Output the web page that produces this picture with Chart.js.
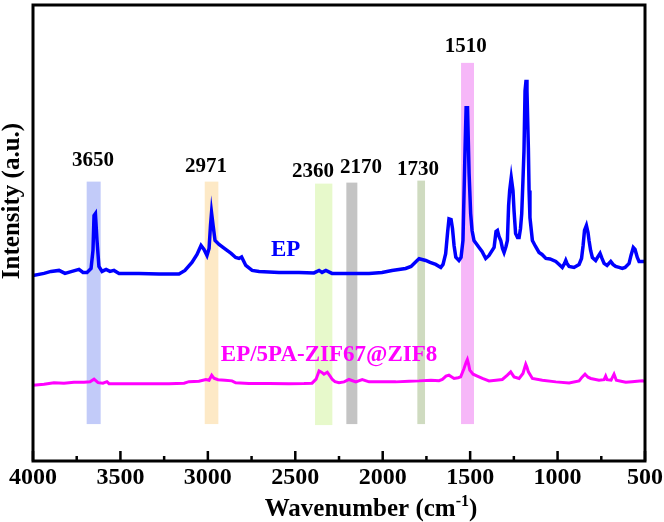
<!DOCTYPE html>
<html>
<head>
<meta charset="utf-8">
<script src="https://cdn.jsdelivr.net/npm/chart.js@4/dist/chart.umd.min.js"></script>
<style>
  html, body { margin: 0; padding: 0; background: #ffffff; }
  #wrap { width: 664px; height: 522px; position: relative; }
</style>
</head>
<body>
<div id="wrap"><canvas id="c" width="664" height="522"></canvas></div>
<script>
// ---------- DATA ----------
const wavenumberEP = [4000,3937,3897,3851,3817,3777,3737,3714,3691,3668,3657,3651,3643,3634,3623,3605,3582,3560,3537,3508,3394,3279,3165,3131,3091,3062,3039,3022,3005,2993,2985,2979,2970,2959,2936,2898,2867,2841,2822,2807,2783,2747,2707,2593,2479,2393,2364,2347,2325,2290,2193,2078,2004,1947,1869,1838,1809,1792,1775,1754,1729,1697,1668,1655,1640,1629,1621,1609,1601,1592,1582,1564,1552,1541,1529,1523,1515,1506,1497,1489,1478,1449,1432,1411,1392,1363,1352,1344,1335,1325,1315,1306,1295,1287,1280,1274,1265,1255,1249,1240,1229,1220,1212,1205,1198,1192,1186,1180,1175,1167,1163,1158,1144,1126,1106,1089,1067,1043,1010,991,973,960,953,946,934,906,877,863,854,846,835,826,820,811,801,782,768,757,746,734,717,696,683,668,648,630,614,591,580,567,557,544,534,515,505];
const intensityEP = [186,188,190,191,188,190,192,189,189,193,211,246,248,221,195,190,192,190,191,188,188,187.5,187.5,191,199,207,216,212,206,213,236,249,236,221,217,212,208,204,203,204.5,196,191,190,189,189,188.5,191,189,191,188,188,188,189,191,193,195,200,202.7,202,201,199,197,194,197,207.7,229,242.7,242,233,216,204.3,201,204,221,314,354,354,288,248,231,221,214,210,203,206,214,230,231,225,221,213,209,215,221,256,271,284,271,251,228,224,224,233,248,281,311,371,382,371,314,271,244,221,215,209,207,203,202.5,200,197,194,198,201,198,195,194,197,203,216,231,236,229,221,211,204,201,205,208,203,198,196,200,197,195,194,193,194,198,206,214,212,204,200,200,200];

const wavenumberComposite = [4000,3937,3880,3823,3766,3708,3674,3651,3628,3600,3577,3565,3451,3337,3222,3136,3108,3051,3011,2993,2978,2965,2942,2902,2862,2841,2765,2650,2536,2450,2404,2381,2364,2350,2336,2317,2301,2288,2273,2250,2221,2193,2154,2117,2078,2021,1925,1849,1792,1724,1678,1659,1638,1621,1592,1569,1554,1535,1523,1516,1509,1502,1483,1459,1430,1392,1352,1316,1287,1268,1249,1220,1198,1189,1182,1175,1167,1144,1087,1010,934,877,860,843,826,810,763,734,725,717,694,677,664,637,610,574,545,515,505];
const intensityComposite = [76,77,78.5,78,79,79,79.5,82,78.5,78,79.5,77.5,77.5,77.5,77.5,78,79.5,80,81.7,81,86,83,81.5,81,80.3,78.3,77.7,77.7,77.5,77.7,78,82,90.3,89,87,89,85,81.7,79.5,78.5,79.3,81.7,79.3,81.7,79.3,79.3,79.3,80,80.3,81,80.5,81.7,85,86,82.7,83.5,84.3,92.7,99,101.7,97,91,87,85,82.7,80.3,81,81.7,86,89.3,84.3,82.7,87.7,93,97,94,89.3,82.7,81,79.3,78.3,80.3,84,87,84,82.7,81,81.5,85,81.5,81,87,81,80,79,79.5,80,80.3,80];

const seriesNames = ['EP', 'EP/5PA-ZIF67@ZIF8'];

const bandLabels = ['3650', '2971', '2360', '2170', '1730', '1510'];
const bandFrom   = [3693, 3018, 2387, 2208, 1802, 1552];
const bandTo     = [3613, 2940, 2288, 2145, 1758, 1478];
const bandTop    = [280, 280, 278, 279, 281, 399];
const bandBottom = [37, 37, 36, 37, 37, 37];

const xTickValues = [4000, 3500, 3000, 2500, 2000, 1500, 1000, 500];
const xMinorTickValues = [3750, 3250, 2750, 2250, 1750, 1250, 750];

// ---------- STYLE ----------
const bandColors = ['#c2cbf9', '#fde9c6', '#e7f9cb', '#c4c4c4', '#cfdbc0', '#f6b7f8'];
const serif = "'Liberation Serif', 'Times New Roman', serif";
// label anchors in data coordinates [wavenumber, intensity]
const bandLabelAnchor = [[3657, 301], [3010, 295], [2398, 290], [2124, 294], [1798, 292], [1525, 415]];
const seriesLabelAnchor = [[2555, 211], [2307, 106]];
const seriesColors = ['#0000ff', '#ff00ff'];

const decorPlugin = {
  id: 'decor',
  beforeDatasetsDraw(chart) {
    const { ctx, scales: { x, y } } = chart;
    ctx.save();
    for (let i = 0; i < bandLabels.length; i++) {
      const x1 = x.getPixelForValue(bandFrom[i]);
      const x2 = x.getPixelForValue(bandTo[i]);
      const y1 = y.getPixelForValue(bandTop[i]);
      const y2 = y.getPixelForValue(bandBottom[i]);
      ctx.fillStyle = bandColors[i];
      ctx.fillRect(Math.min(x1, x2), y1, Math.abs(x2 - x1), y2 - y1);
    }
    ctx.restore();
  },
  afterDatasetsDraw(chart) {
    const { ctx, chartArea: a, scales: { x, y } } = chart;
    ctx.save();
    // band labels
    ctx.fillStyle = '#000';
    ctx.font = 'bold 21px ' + serif;
    ctx.textAlign = 'center';
    ctx.textBaseline = 'middle';
    for (let i = 0; i < bandLabels.length; i++) {
      ctx.fillText(bandLabels[i], x.getPixelForValue(bandLabelAnchor[i][0]), y.getPixelForValue(bandLabelAnchor[i][1]));
    }
    // series labels
    ctx.font = 'bold 23px ' + serif;
    for (let i = 0; i < seriesNames.length; i++) {
      ctx.fillStyle = seriesColors[i];
      ctx.fillText(seriesNames[i], x.getPixelForValue(seriesLabelAnchor[i][0]), y.getPixelForValue(seriesLabelAnchor[i][1]));
    }
    // frame
    ctx.strokeStyle = '#000';
    ctx.lineWidth = 3;
    ctx.strokeRect(a.left, a.top, a.right - a.left, a.bottom - a.top);
    // inward ticks
    ctx.lineWidth = 2.5;
    ctx.beginPath();
    xTickValues.forEach(v => {
      const px = x.getPixelForValue(v);
      ctx.moveTo(px, a.bottom); ctx.lineTo(px, a.bottom - 10);
    });
    xMinorTickValues.forEach(v => {
      const px = x.getPixelForValue(v);
      ctx.moveTo(px, a.bottom); ctx.lineTo(px, a.bottom - 5);
    });
    ctx.stroke();
    // x title with superscript
    ctx.fillStyle = '#000';
    ctx.textAlign = 'left';
    ctx.textBaseline = 'alphabetic';
    const big = 'bold 25px ' + serif, small = 'bold 16px ' + serif;
    const p1 = 'Wavenumber (cm', p2 = '-1', p3 = ')';
    ctx.font = big; const w1 = ctx.measureText(p1).width, w3 = ctx.measureText(p3).width;
    ctx.font = small; const w2 = ctx.measureText(p2).width;
    let sx = 371 - (w1 + w2 + w3) / 2;
    const by = 516;
    ctx.font = big; ctx.fillText(p1, sx, by); sx += w1;
    ctx.font = small; ctx.fillText(p2, sx, by - 10); sx += w2;
    ctx.font = big; ctx.fillText(p3, sx, by);
    // y title
    ctx.translate(13, 201);
    ctx.rotate(-Math.PI / 2);
    ctx.textAlign = 'center';
    ctx.textBaseline = 'middle';
    ctx.font = big;
    ctx.fillText('Intensity (a.u.)', 0, 0);
    ctx.restore();
  }
};

new Chart(document.getElementById('c'), {
  type: 'line',
  data: {
    datasets: [
      { label: seriesNames[0], data: wavenumberEP.map((w, i) => ({ x: w, y: intensityEP[i] })),
        borderColor: seriesColors[0], borderWidth: 3.5, pointRadius: 0, tension: 0 },
      { label: seriesNames[1], data: wavenumberComposite.map((w, i) => ({ x: w, y: intensityComposite[i] })),
        borderColor: seriesColors[1], borderWidth: 3, pointRadius: 0, tension: 0 }
    ]
  },
  options: {
    responsive: false,
    animation: false,
    layout: { padding: { left: 33, right: 19, top: 5, bottom: 0 } },
    plugins: { legend: { display: false }, tooltip: { enabled: false } },
    scales: {
      x: {
        type: 'linear', reverse: true, min: 500, max: 4000,
        afterBuildTicks: s => { s.ticks = xTickValues.map(v => ({ value: v })); },
        afterFit: s => { s.height = 61; },
        grid: { display: false, drawTicks: false },
        border: { display: false },
        ticks: { color: '#000', padding: 1, maxRotation: 0, autoSkip: false,
                 callback: v => String(v),
                 font: { family: serif, weight: 'bold', size: 24, lineHeight: 1.35 } }
      },
      y: {
        display: false, min: 0, max: 457
      }
    }
  },
  plugins: [decorPlugin]
});
</script>
</body>
</html>
